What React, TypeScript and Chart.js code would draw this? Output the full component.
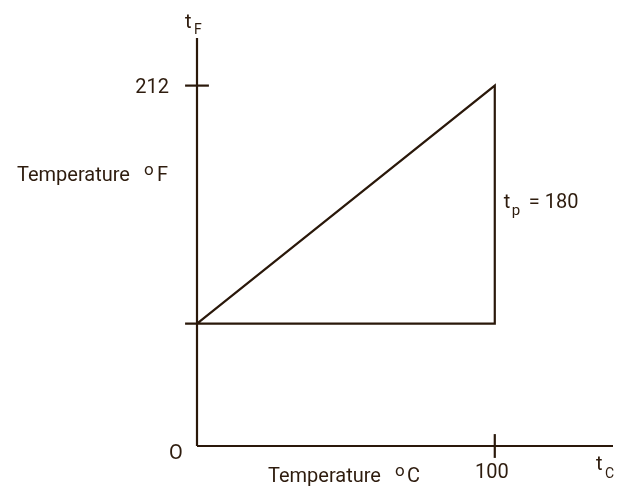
import React, { useEffect, useRef } from "react";
import { Chart, registerables } from "chart.js";

Chart.register(...registerables);

// Axis extents (data units: °C horizontally, °F vertically, as drawn)
const xExtent = [0, 139.7];
const yExtent = [0, 240];
// The schematic places the freezing point (32 °F) at this drawn height
const freezeLevel = 72;
const boilC = 100;
const boilF = 212;
const tickHalfX = 4;
const tickHalfY = 7;

const tickLabelsX = ["100"];
const tickLabelsY = ["212"];
const rangeLabel = "= 180";

const INK = "#2a180a";
const TEXT = "#2e1c0e";
const FONT = "Roboto";

const textPlugin = {
  id: "schematicText",
  afterDatasetsDraw(chart: any) {
    const { ctx, scales } = chart;
    const xs = scales.x;
    const ys = scales.y;
    const x0 = xs.getPixelForValue(0);
    const y0 = ys.getPixelForValue(0);
    const yTop = ys.getPixelForValue(yExtent[1]);
    const xEnd = xs.getPixelForValue(xExtent[1]);
    const x100 = xs.getPixelForValue(boilC);
    const y212 = ys.getPixelForValue(boilF);
    const yFreeze = ys.getPixelForValue(freezeLevel);
    ctx.save();
    ctx.fillStyle = TEXT;
    ctx.textBaseline = "alphabetic";
    const put = (s: string, x: number, y: number, size: number, align: CanvasTextAlign = "left") => {
      ctx.font = `${size}px ${FONT}`;
      ctx.textAlign = align;
      ctx.fillText(s, x, y);
    };
    // t_F at top of y axis
    put("t", x0 - 12, yTop - 10, 20);
    put("F", x0 - 3, yTop - 4, 14);
    // 212 tick label
    put(tickLabelsY[0], x0 - 28, y212 + 7, 20, "right");
    // y axis title
    put("Temperature", 17, 181, 20);
    put("o", 144, 175, 17);
    put("F", 157, 181, 20);
    // t_p = 180
    const midY = (y212 + yFreeze) / 2;
    put("t", x100 + 9, midY + 3, 20);
    put("p", x100 + 17, midY + 10, 15);
    put(rangeLabel, x100 + 34, midY + 3, 20);
    // origin
    put("O", x0 - 28, y0 + 13, 20);
    // 100 tick label
    put(tickLabelsX[0], x100 - 3, y0 + 32, 20, "center");
    // x axis title
    put("Temperature", 268, y0 + 36, 20);
    put("o", 395, y0 + 30, 17);
    put("C", 407, y0 + 36, 20);
    // t_C
    put("t", xEnd - 17, y0 + 24, 20);
    put("C", xEnd - 8, y0 + 32, 14);
    ctx.restore();
  },
};

export default function App() {
  const ref = useRef<HTMLCanvasElement | null>(null);
  useEffect(() => {
    document.body.style.margin = "0";
    const line = (data: { x: number; y: number }[]) => ({
      data,
      showLine: true,
      borderColor: INK,
      borderWidth: 2.2,
      pointRadius: 0,
      fill: false,
      tension: 0,
      clip: false as any,
    });
    const chart = new Chart(ref.current as HTMLCanvasElement, {
      type: "scatter",
      data: {
        datasets: [
          line([
            { x: xExtent[0], y: 0 },
            { x: xExtent[1], y: 0 },
          ]),
          line([
            { x: 0, y: yExtent[0] },
            { x: 0, y: yExtent[1] },
          ]),
          line([
            { x: 0, y: freezeLevel },
            { x: boilC, y: boilF },
            { x: boilC, y: freezeLevel },
            { x: -tickHalfX, y: freezeLevel },
          ]),
          line([
            { x: -tickHalfX, y: boilF },
            { x: tickHalfX, y: boilF },
          ]),
          line([
            { x: boilC, y: -tickHalfY },
            { x: boilC, y: tickHalfY },
          ]),
        ] as any,
      },
      options: {
        animation: false,
        responsive: false,
        layout: { padding: { left: 197, top: 38, right: 24, bottom: 46 } },
        plugins: { legend: { display: false }, tooltip: { enabled: false } },
        scales: {
          x: { type: "linear", display: false, min: xExtent[0], max: xExtent[1] },
          y: { type: "linear", display: false, min: yExtent[0], max: yExtent[1] },
        },
      },
      plugins: [textPlugin],
    });
    return () => chart.destroy();
  }, []);
  return (
    <div style={{ position: "fixed", left: 0, top: 0, width: 637, height: 492, background: "#fff" }}>
      <canvas ref={ref} width={637} height={492} style={{ display: "block" }} />
    </div>
  );
}
